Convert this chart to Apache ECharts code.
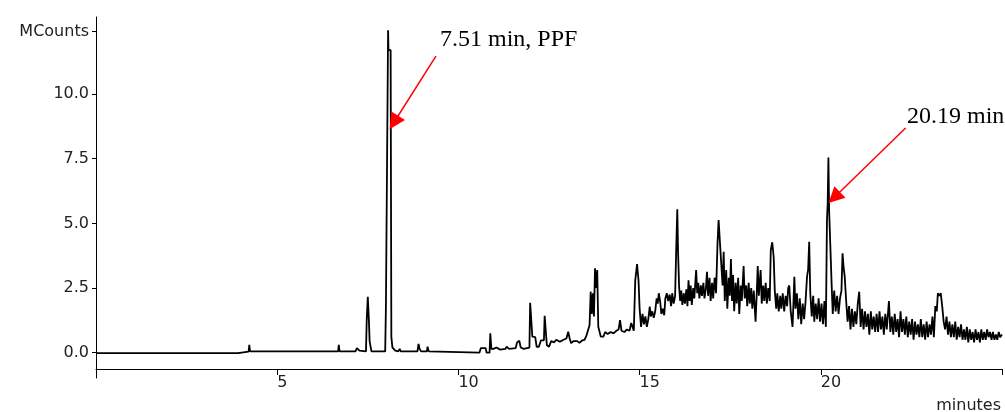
<!DOCTYPE html>
<html>
<head>
<meta charset="utf-8">
<script src="https://cdn.jsdelivr.net/npm/echarts@6/dist/echarts.min.js"></script>
<style>
html,body{margin:0;padding:0;background:#fff;}
#chart{width:1005px;height:412px;}
</style>
</head>
<body>
<div id="chart"></div>
<script>
//色谱数据 [min, MCounts]
var earlyTrace = [
	[0,-0.02],[3.92,-0.02],[3.96,0.04],[4.21,0.04],[4.23,0.3],[4.25,0.05],[6.68,0.05],[6.7,0.3],[6.72,0.05],
	[7.16,0.05],[7.2,0.18],[7.23,0.23],[7.27,0.08],[7.3,0.05],[7.45,0.05],[7.47,1.26],[7.5,2.16],[7.53,1.26],
	[7.55,0.45],[7.58,0.45],[7.6,0.05],[7.98,0.05],[8.0,1.78],[8.05,1.78],[8.06,12.47],[8.07,11.7],[8.13,11.7],
	[8.15,0.6],[8.18,0.2],[8.22,0.18],[8.26,0.08],[8.3,0.12],[8.34,0.05],[8.38,0.15],[8.41,0.05],[8.87,0.05],
	[8.9,0.34],[8.93,0.15],[8.97,0.05],[9.13,0.05],[9.15,0.23],[9.18,0.05],[9.22,0.0],[10.58,0.0]
];

var midTrace = [
	[10.6,0.0],[10.62,0.18],[10.75,0.18],[10.78,0.0],[10.86,0.0],[10.88,0.75],[10.91,0.15],[10.97,0.15],
	[11.05,0.2],[11.15,0.12],[11.3,0.15],[11.33,0.23],[11.4,0.15],[11.58,0.18],[11.62,0.4],[11.68,0.46],
	[11.72,0.2],[11.8,0.15],[11.96,0.2],[11.98,1.93],[12.02,1.93],[12.04,0.62],[12.12,0.6],[12.16,0.23],
	[12.22,0.23],[12.28,0.48],[12.36,0.48],[12.38,1.43],[12.41,1.43],[12.44,0.3],[12.5,0.23],[12.56,0.45],
	[12.64,0.4],[12.7,0.5],[12.8,0.42],[12.9,0.5],[12.98,0.55],[13.03,0.81],[13.07,0.55],[13.11,0.37],
	[13.18,0.45],[13.28,0.45],[13.34,0.38],[13.42,0.48],[13.48,0.5],[13.53,0.65],[13.58,0.7],[13.62,1.07],
	[13.65,2.36],[13.68,1.5],[13.71,2.3],[13.74,1.4],[13.77,3.26],[13.8,2.5],[13.83,3.2],[13.86,1.0],
	[13.93,0.62],[14.0,0.62],
	[14.05,0.8],[14.12,0.72],[14.2,0.8],[14.28,0.75],[14.36,0.85],[14.42,0.9],[14.46,1.26],[14.5,0.85],
	[14.58,0.8],[14.65,0.9],[14.72,0.85],[14.77,1.15],[14.84,0.85],[14.88,2.8],[14.93,3.43],[14.97,2.8],[15.0,1.72]
];

var lateTrace = [
	[15.04,1.0],[15.08,1.5],[15.12,1.1],[15.16,1.4],[15.2,1.0],[15.24,1.3],[15.28,1.78],[15.31,1.4],[15.35,1.6],
	[15.39,1.35],[15.43,1.6],[15.47,2.1],[15.5,1.9],[15.53,2.3],[15.57,1.95],[15.6,1.5],[15.64,1.7],[15.68,1.45],
	[15.71,2.1],[15.75,2.3],[15.79,2.0],[15.83,2.25],[15.87,1.8],[15.9,2.3],[15.94,1.9],[15.98,2.2],[16.01,3.97],
	[16.04,5.55],[16.06,3.97],[16.09,2.55],[16.12,2.0],[16.15,2.4],[16.18,1.85],[16.22,2.3],[16.25,1.9],[16.29,2.45],
	[16.32,1.8],[16.35,2.8],[16.38,2.0],[16.41,2.6],[16.44,1.85],[16.48,2.5],[16.51,2.1],[16.56,3.2],[16.59,2.3],
	[16.62,2.7],[16.65,2.1],[16.69,2.6],[16.72,2.2],[16.76,2.7],[16.79,2.1],[16.83,2.5],[16.86,3.13],[16.89,2.2],
	[16.93,2.9],[16.96,2.0],[17.0,2.7],[17.03,2.1],[17.07,2.9],[17.11,2.3],[17.15,4.23],[17.18,5.13],[17.21,4.42],
	[17.26,4.42],[17.29,2.6],[17.32,3.9],[17.35,2.0],[17.39,3.2],[17.42,1.7],[17.46,2.9],[17.49,2.2],[17.52,3.62],
	[17.55,2.0],[17.58,3.0],[17.61,1.6],[17.65,2.7],[17.68,1.9],[17.72,2.9],[17.75,1.5],[17.79,2.6],[17.82,2.0],
	[17.87,3.35],[17.9,2.1],[17.94,2.6],[17.97,1.8],[18.01,2.7],[18.04,1.9],[18.08,2.5],[18.11,1.7],[18.15,2.4],
	[18.2,1.2],[18.23,2.2],[18.26,3.35],[18.29,2.2],[18.34,3.2],[18.37,1.9],[18.41,2.6],[18.44,2.0],[18.48,2.7],
	[18.51,1.9],[18.55,2.5],[18.59,2.0],[18.62,3.97],[18.66,4.27],[18.7,3.7],[18.73,2.4],[18.77,1.7],[18.8,2.3],
	[18.84,1.6],[18.88,2.2],[18.91,1.7],[18.95,2.3],[18.99,1.6],[19.03,2.2],[19.07,1.8],[19.1,2.5],[19.13,2.6],
	[19.17,1.6],[19.22,1.0],[19.25,2.1],[19.27,2.94],[19.3,1.7],[19.34,2.3],[19.38,1.3],[19.42,2.1],[19.46,1.1],
	[19.5,1.9],[19.54,1.3],[19.58,2.0],[19.62,2.94],[19.65,3.2],[19.68,4.29],[19.71,2.3],[19.75,1.4],[19.79,2.2],
	[19.82,1.2],[19.86,1.9],[19.9,1.3],[19.94,2.1],[19.98,1.2],[20.02,1.9],[20.06,1.1],[20.1,2.0],[20.14,1.0],
	[20.17,5.13],[20.19,5.78],[20.21,7.55],[20.23,5.5],[20.27,5.5],[20.3,2.6],[20.33,1.5],[20.37,2.4],[20.41,1.6],
	[20.45,2.2],[20.49,1.5],[20.53,2.1],[20.57,2.4],[20.6,3.84],[20.63,3.3],[20.66,2.94],[20.7,2.0],[20.74,1.2],
	[20.78,1.8],[20.82,0.9],[20.86,1.7],[20.9,1.0],[20.94,1.6],[20.98,1.1],[21.02,1.9],[21.06,2.36],[21.1,1.0],
	[21.14,1.7],[21.18,0.9],[21.22,1.6],[21.26,1.0],[21.3,1.5],[21.34,0.7],[21.38,1.6],[21.42,0.9],[21.46,1.4],
	[21.5,0.8],[21.54,1.5],[21.58,0.8],[21.62,1.6],[21.66,0.9],[21.7,1.4],[21.74,0.7],[21.78,1.5],[21.82,0.9],
	[21.88,2.0],[21.92,0.8],[21.96,1.4],[22.0,0.7],[22.04,1.5],[22.08,0.8],[22.12,1.3],[22.16,0.6],[22.2,1.6],
	[22.24,0.8],[22.28,1.3],[22.32,0.7],[22.36,1.4],[22.4,0.6],[22.44,1.2],[22.48,0.7],[22.52,1.3],[22.56,0.5],
	[22.6,1.2],[22.64,0.7],[22.68,1.1],[22.72,0.6],[22.76,1.3],[22.8,0.6],[22.84,1.1],[22.88,0.5],[22.92,1.2],
	[22.96,0.6],[23.0,1.1],[23.04,0.7],[23.08,1.4],[23.12,0.6],[23.16,1.8],[23.2,1.6],[23.23,2.3],[23.27,2.2],
	[23.31,2.3],[23.35,1.8],[23.39,1.2],[23.43,0.9],[23.47,1.4],[23.51,0.7],[23.55,1.2],[23.59,0.6],[23.63,1.1],
	[23.67,0.6],[23.71,1.2],[23.75,0.5],[23.79,1.0],[23.83,0.6],[23.87,1.1],[23.91,0.5],[23.95,0.9],[23.99,0.5],
	[24.03,1.0],[24.07,0.4],[24.11,0.9],[24.15,0.5],[24.19,0.8],[24.23,0.4],[24.27,0.9],[24.31,0.5],[24.35,0.8],
	[24.39,0.4],[24.43,0.9],[24.47,0.5],[24.51,0.8],[24.55,0.5],[24.59,0.9],[24.63,0.6],[24.67,0.8],[24.71,0.5],
	[24.75,0.8],[24.79,0.5],[24.83,0.7],[24.87,0.5],[24.91,0.8],[24.95,0.6],[25.0,0.7]
];

//坐标轴刻度
var yTicks = [0, 2.5, 5, 7.5, 10, 12.41];
var yUnitName = 'MCounts';
var xUnitName = 'minutes';

//峰标注 [起点, 箭头中心]
var peakNotes = ['7.51 min, PPF', '20.19 min'];
var peakArrows = [
	[[9.38, 11.47], [8.22, 8.90]],
	[[22.34, 8.69], [20.37, 6.0]]
];

var chart = echarts.init(document.getElementById('chart'));

var axisFont = {
	color : '#222',
	fontFamily : 'DejaVu Sans',
	fontSize : 16
};

var option = {
	animation : false,
	grid : {
		left : 96,
		right : 0,
		top : 17,
		bottom : 34
	},
	xAxis : {
		type : 'value',
		min : 0,
		max : 25,
		interval : 5,
		offset : -9,
		axisLine : {onZero : false, lineStyle : {color : '#000', width : 1}},
		axisTick : {length : 6, lineStyle : {color : '#000'}},
		splitLine : {show : false},
		axisLabel : {
			margin : 6,
			align : 'left',
			color : axisFont.color,
			fontFamily : axisFont.fontFamily,
			fontSize : axisFont.fontSize,
			formatter : function(v) {
				return (v === 0 || v === 25) ? '' : String(v);
			}
		}
	},
	yAxis : {
		type : 'value',
		min : -0.978,
		max : 12.98,
		axisLine : {show : true, onZero : false, lineStyle : {color : '#000', width : 1}},
		axisTick : {show : true, length : 4, customValues : yTicks, lineStyle : {color : '#000'}},
		splitLine : {show : false},
		axisLabel : {
			customValues : yTicks,
			margin : 7,
			color : axisFont.color,
			fontFamily : axisFont.fontFamily,
			fontSize : axisFont.fontSize,
			formatter : function(v) {
				return v > 12 ? yUnitName : v.toFixed(1);
			}
		}
	},
	graphic : [
		{type : 'text', right : 4, top : 398, style : {text : xUnitName, fill : '#222', font : '16px "DejaVu Sans"'}},
		{type : 'text', left : 440, top : 28, style : {text : peakNotes[0], fill : '#000', font : '24px "Liberation Serif"'}},
		{type : 'text', left : 907, top : 105, style : {text : peakNotes[1], fill : '#000', font : '24px "Liberation Serif"'}}
	],
	series : [
		{
			type : 'line',
			data : earlyTrace.concat(midTrace, lateTrace),
			showSymbol : false,
			lineStyle : {color : '#000', width : 1.8},
			markLine : {
				silent : true,
				symbol : ['none', 'triangle'],
				symbolSize : 16,
				label : {show : false},
				lineStyle : {color : '#ff0000', width : 1.5, type : 'solid'},
				itemStyle : {color : '#ff0000'},
				data : peakArrows.map(function(a) {
					return [{coord : a[0]}, {coord : a[1]}];
				})
			}
		}
	]
};

chart.setOption(option);
</script>
</body>
</html>
